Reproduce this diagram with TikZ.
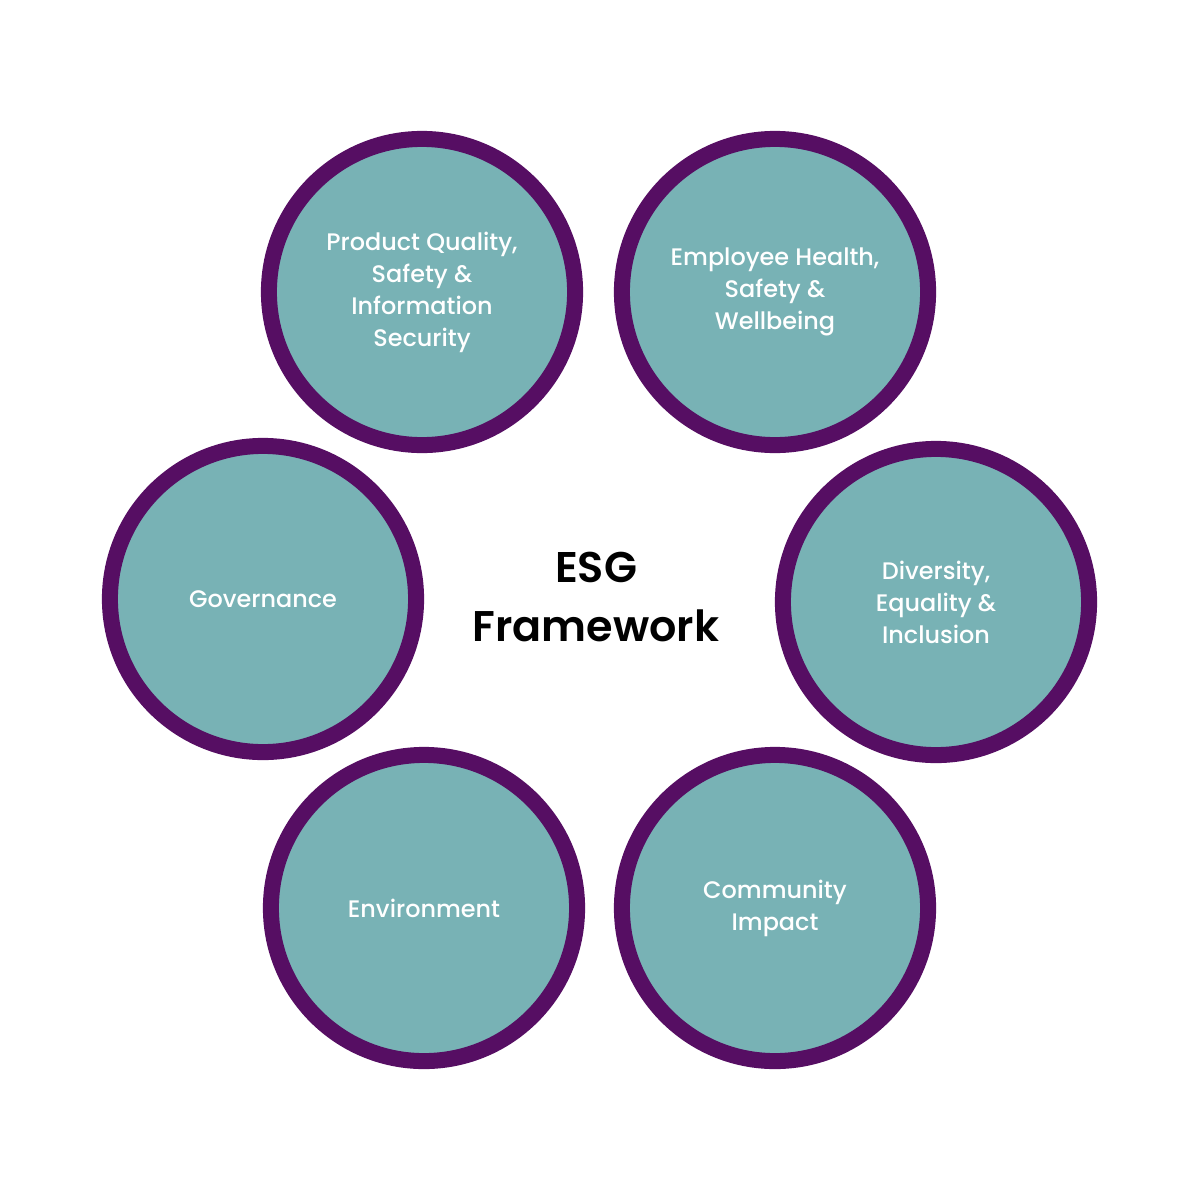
\documentclass[tikz,border=0pt]{standalone}
\usepackage{fontspec}
\setmainfont{Poppins}
\newfontfamily\medfont{Poppins Medium}
\newfontfamily\semifont{Poppins SemiBold}
\definecolor{ringpurple}{HTML}{560E63}
\definecolor{tealfill}{HTML}{78B2B5}
\begin{document}
\begin{tikzpicture}[x=0.01cm,y=-0.01cm,
  pillar/.style={circle, draw=ringpurple, fill=tealfill, line width=0.16cm,
    minimum size=3.06cm, inner sep=0pt, align=center, text=white,
    font=\medfont\fontsize{6.8}{9.1}\selectfont},
  title/.style={align=center, text=black, font=\semifont\fontsize{12.2}{16.5}\selectfont}]
\useasboundingbox (0,0) rectangle (1200,1200);
\fill[white] (0,0) rectangle (1200,1200);
\node[pillar] (pq) at (422,292) {Product Quality,\\Safety \&\\Information\\Security};
\node[pillar] (ehs) at (775,292) {Employee Health,\\Safety \&\\Wellbeing};
\node[pillar] (dei) at (936,602) {Diversity,\\Equality \&\\Inclusion};
\node[pillar] (gov) at (263,599) {Governance};
\node[pillar] (env) at (424,908) {Environment};
\node[pillar] (com) at (775,908) {Community\\Impact};
\node[title] (esg) at (596,597) {ESG\\Framework};
\end{tikzpicture}
\end{document}
